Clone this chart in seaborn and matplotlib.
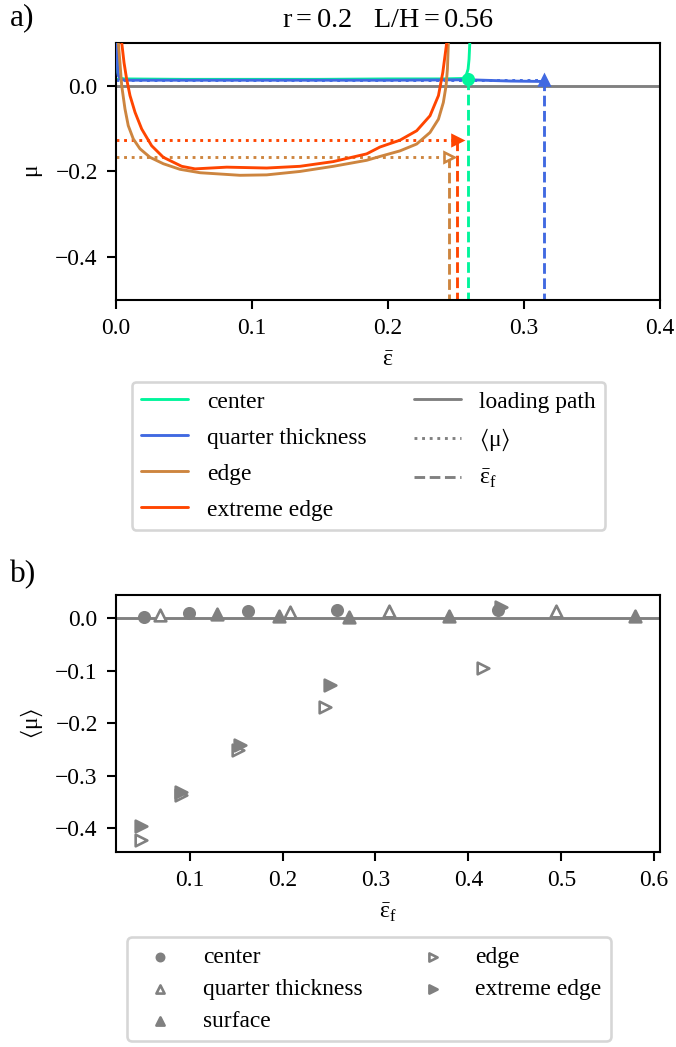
import matplotlib
matplotlib.use("Agg")
import matplotlib.pyplot as plt
from matplotlib.lines import Line2D
import seaborn as sns

# panel a) : local friction mu along the loading path
center_eps = [0.0008, 0.001, 0.0015, 0.003, 0.006, 0.05, 0.1, 0.15, 0.2, 0.24, 0.2549, 0.2574, 0.2589, 0.2596, 0.2603]
center_mu = [0.11, 0.06, 0.03, 0.018, 0.016, 0.015, 0.015, 0.015, 0.016, 0.016, 0.017, 0.023, 0.039, 0.062, 0.11]

quarter_eps = [0.0008, 0.001, 0.0015, 0.003, 0.006, 0.05, 0.1, 0.15, 0.2, 0.259, 0.29, 0.3147]
quarter_mu = [0.11, 0.05, 0.025, 0.016, 0.013, 0.013, 0.013, 0.013, 0.013, 0.014, 0.011, 0.010]

edge_eps = [0.0017, 0.0029, 0.0042, 0.0066, 0.009, 0.0127, 0.0176, 0.025, 0.0348, 0.047, 0.0618, 0.0912,
            0.1108, 0.1353, 0.1598, 0.1843, 0.1941, 0.2088, 0.2211, 0.2309, 0.2371, 0.2407, 0.2427,
            0.2437, 0.2444]
edge_mu = [0.101, 0.054, 0.0, -0.054, -0.093, -0.124, -0.147, -0.167, -0.182, -0.195, -0.203, -0.209,
           -0.208, -0.200, -0.188, -0.174, -0.165, -0.152, -0.136, -0.109, -0.078, -0.039, 0.0,
           0.039, 0.101]

xedge_eps = [0.0042, 0.0059, 0.0078, 0.0103, 0.014, 0.0189, 0.0262, 0.0348, 0.0483, 0.0581, 0.0814,
             0.1108, 0.1353, 0.1598, 0.1843, 0.1941, 0.2088, 0.2211, 0.2309, 0.2371, 0.2403, 0.2432]
xedge_mu = [0.101, 0.054, 0.016, -0.023, -0.062, -0.101, -0.140, -0.167, -0.188, -0.194, -0.190,
            -0.192, -0.188, -0.177, -0.159, -0.143, -0.127, -0.105, -0.070, -0.023, 0.031, 0.101]

# failure strain and mean friction for each location (panel a)
a_labels = ["center", "quarter thickness", "edge", "extreme edge"]
a_eps_f = [0.259, 0.3147, 0.245, 0.2505]
a_mean_mu = [0.016, 0.014, -0.166, -0.127]

# panel b) : mean friction vs failure strain
b_center_ef = [0.0509, 0.0989, 0.163, 0.2588, 0.4315]
b_center_mu = [0.002, 0.010, 0.013, 0.016, 0.016]
b_quarter_ef = [0.0677, 0.2075, 0.3143, 0.4943]
b_quarter_mu = [0.006, 0.0126, 0.0145, 0.013]
b_surface_ef = [0.1294, 0.1957, 0.2713, 0.3789, 0.5796]
b_surface_mu = [0.008, 0.005, 0.003, 0.004, 0.005]
b_edge_ef = [0.0473, 0.091, 0.152, 0.2459, 0.4154]
b_edge_mu = [-0.4226, -0.336, -0.251, -0.168, -0.0955]
b_xedge_ef = [0.0473, 0.091, 0.1538, 0.2505, 0.435]
b_xedge_mu = [-0.3955, -0.331, -0.2415, -0.127, 0.022]

colors = ["#00F59B", "royalblue", "peru", "orangered"]
markers = ["o", "^", ">", ">"]
filled = [True, True, False, True]

sns.set_style("ticks")
plt.rcParams.update({
    "font.family": ["Liberation Serif", "DejaVu Serif"],
    "font.size": 9,
    "mathtext.fontset": "custom",
    "mathtext.rm": "Liberation Serif",
    "mathtext.it": "Liberation Serif",
    "mathtext.bf": "Liberation Serif:bold",
    "mathtext.fallback": "stix",
    "axes.edgecolor": "black",
    "axes.linewidth": 0.8,
    "xtick.color": "black",
    "ytick.color": "black",
    "xtick.major.size": 3.5,
    "ytick.major.size": 3.5,
    "xtick.major.width": 0.8,
    "ytick.major.width": 0.8,
    "axes.labelcolor": "black",
    "text.color": "black",
})

fig = plt.figure(figsize=(676 / 188, 1047 / 188), dpi=188)
ax1 = fig.add_axes([0.1716, 0.7135, 0.8047, 0.2455])
ax2 = fig.add_axes([0.1716, 0.1862, 0.8047, 0.2455])

YMIN = -0.5
lw = 1.1

# ---- a) ----
ax1.axhline(0, color="gray", lw=lw, zorder=1)
curves = [(center_eps, center_mu), (quarter_eps, quarter_mu), (edge_eps, edge_mu), (xedge_eps, xedge_mu)]
for (xs, ys), c in zip(curves, colors):
    sns.lineplot(x=xs, y=ys, color=c, lw=lw, sort=False, estimator=None, ax=ax1, zorder=3)

for ef, mm, c, m, f in zip(a_eps_f, a_mean_mu, colors, markers, filled):
    ax1.plot([0, ef], [mm, mm], ls=":", color=c, lw=lw, zorder=2)
    ax1.plot([ef, ef], [mm, YMIN], ls="--", color=c, lw=lw, zorder=2)
    ax1.plot(ef, mm, marker=m, ms=4, color=c, mfc=c if f else "white", mec=c, mew=1, zorder=4)

ax1.set_xlim(0, 0.4)
ax1.set_ylim(YMIN, 0.1)
ax1.set_xticks([0.0, 0.1, 0.2, 0.3, 0.4])
ax1.set_yticks([0.0, -0.2, -0.4])
ax1.set_xlabel(r"$\bar{\varepsilon}$")
ax1.set_ylabel(r"$\mu$")
ax1.set_title(r"$\mathrm{r = 0.2 \quad L/H = 0.56}$")

handles_a = [Line2D([], [], color=c, lw=lw) for c in colors]
handles_a += [Line2D([], [], color="gray", lw=lw),
              Line2D([], [], color="gray", lw=lw, ls=":"),
              Line2D([], [], color="gray", lw=lw, ls="--")]
labels_a = a_labels + ["loading path", r"$\langle\mu\rangle$", r"$\bar{\varepsilon}_\mathrm{f}$"]
ax1.legend(handles_a, labels_a, ncol=2, loc="upper left", bbox_to_anchor=(0.029, -0.318),
           borderaxespad=0, labelspacing=0.62)

# ---- b) ----
ax2.axhline(0, color="gray", lw=lw, zorder=1)
b_sets = [
    ("center", b_center_ef, b_center_mu, "o", True, 16),
    ("quarter thickness", b_quarter_ef, b_quarter_mu, "^", False, 20),
    ("surface", b_surface_ef, b_surface_mu, "^", True, 20),
    ("edge", b_edge_ef, b_edge_mu, ">", False, 20),
    ("extreme edge", b_xedge_ef, b_xedge_mu, ">", True, 20),
]
for lab, xs, ys, m, f, s in b_sets:
    sns.scatterplot(x=xs, y=ys, marker=m, s=s, color="gray", facecolor="gray" if f else "white",
                    edgecolor="gray", linewidth=1, label=lab, ax=ax2, zorder=3)

ax2.set_xticks([0.1, 0.2, 0.3, 0.4, 0.5, 0.6])
ax2.set_yticks([0.0, -0.1, -0.2, -0.3, -0.4])
ax2.set_xlabel(r"$\bar{\varepsilon}_\mathrm{f}$")
ax2.set_ylabel(r"$\langle\mu\rangle$")
ax2.legend(ncol=2, loc="upper left", bbox_to_anchor=(0.021, -0.33), borderaxespad=0,
           markerscale=0.7, labelspacing=0.45)

fig.text(0.015, 0.983, "a)", fontsize=12, va="center")
fig.text(0.015, 0.4508, "b)", fontsize=12, va="center")

fig.savefig("out.png", dpi=188)
